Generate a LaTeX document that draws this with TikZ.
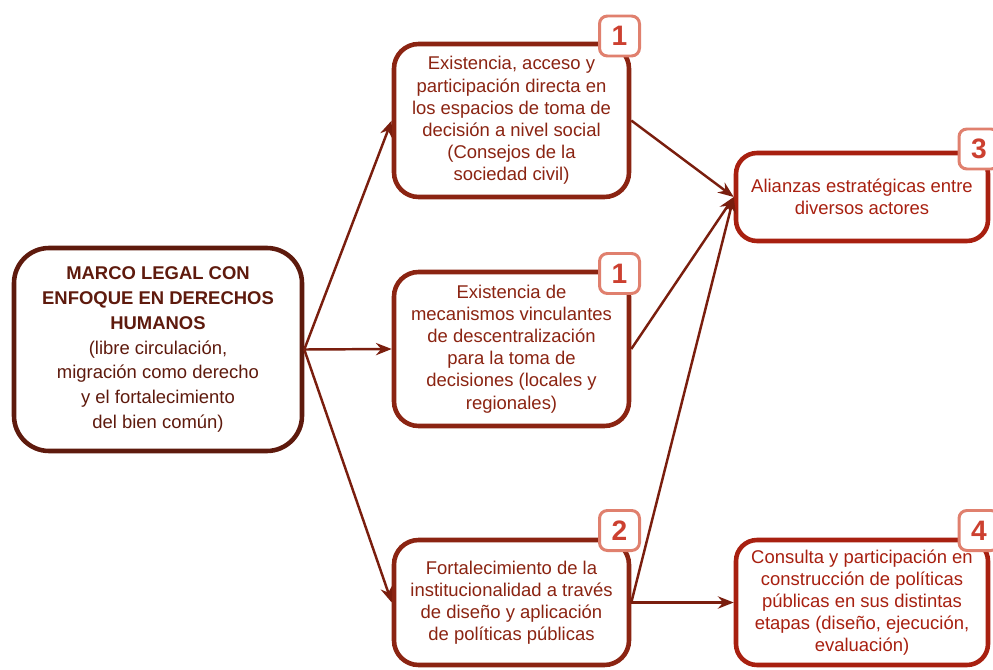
\documentclass[tikz,border=0pt]{standalone}
\usepackage{fontspec}
\setmainfont{Liberation Sans}
\usetikzlibrary{positioning, arrows.meta}
\definecolor{mlbrown}{HTML}{5E1A0D}
\definecolor{mlmaroon}{HTML}{8B2412}
\definecolor{mlred}{HTML}{A82010}
\definecolor{mlarrow}{HTML}{7A1E0E}
\definecolor{mlsalmon}{HTML}{E0806E}
\definecolor{mlnum}{HTML}{CC4030}
\tikzset{
    marco/.style={rectangle, rounded corners=20pt, draw=mlbrown, fill=white, line width=2.6pt, minimum width=5.76cm, minimum height=4.06cm, align=center, text=mlbrown, font=\fontsize{10.5}{14.2}\selectfont},
    eje/.style={rectangle, rounded corners=14pt, draw=mlmaroon, fill=white, line width=2.6pt, minimum width=4.70cm, minimum height=#1, align=center, text=mlmaroon, font=\fontsize{10.5}{12.6}\selectfont},
    meta/.style={rectangle, rounded corners=12pt, draw=mlred, fill=white, line width=2.6pt, minimum width=5.04cm, minimum height=#1, align=center, text=mlred, font=\fontsize{10.5}{12.6}\selectfont},
    badge/.style={rectangle, rounded corners=4.5pt, draw=mlsalmon, fill=white, line width=1.7pt, minimum width=0.8cm, minimum height=0.8cm, inner sep=0pt, text=mlnum, font=\fontsize{16}{16}\selectfont\bfseries},
    flecha/.style={-{Stealth[length=9pt, width=7pt, inset=3pt]}, line width=1.4pt, draw=mlarrow}
}
\begin{document}
\begin{tikzpicture}
        \useasboundingbox (0,0) rectangle (19.86,13.38);
        \node[marco] (marco) at (3.16, 6.39) {\textbf{MARCO LEGAL CON}\\\textbf{ENFOQUE EN DERECHOS}\\\textbf{HUMANOS}\\
          (libre circulación,\\migración como derecho\\y el fortalecimiento\\del bien común)};
        \node[eje=3.06cm] (acceso) at (10.23,10.97) {Existencia, acceso y\\participación directa en\\los espacios de toma de\\decisión a nivel social\\(Consejos de la\\sociedad civil)};
        \node[eje=3.08cm] (mecanismos) at (10.23, 6.40) {Existencia de\\mecanismos vinculantes\\de descentralización\\para la toma de\\decisiones (locales y\\regionales)};
        \node[eje=2.50cm] (institucion) at (10.23, 1.33) {Fortalecimiento de la\\institucionalidad a través\\de diseño y aplicación\\de políticas públicas};
        \node[meta=1.76cm] (alianzas) at (17.24, 9.44) {Alianzas estratégicas entre\\diversos actores};
        \node[meta=2.50cm] (consulta) at (17.24, 1.33) {Consulta y participación en\\construcción de políticas\\públicas en sus distintas\\etapas (diseño, ejecución,\\evaluación)};
        \node[badge] (nacceso)      at (12.39,12.66) {1};
        \node[badge] (nmecanismos)  at (12.39, 7.91) {1};
        \node[badge] (ninstitucion) at (12.39, 2.77) {2};
        \node[badge] (nalianzas)    at (19.58,10.40) {3};
        \node[badge] (nconsulta)    at (19.58, 2.77) {4};
        \draw[flecha] (marco.east)       -- (acceso.west);
        \draw[flecha] (marco.east)       -- (mecanismos.west);
        \draw[flecha] (marco.east)       -- (institucion.west);
        \draw[flecha] (acceso.east)      -- (alianzas.west);
        \draw[flecha] (mecanismos.east)  -- (alianzas.west);
        \draw[flecha] (institucion.east) -- (alianzas.west);
        \draw[flecha] (institucion.east) -- (consulta.west);
        \end{tikzpicture}
\end{document}
